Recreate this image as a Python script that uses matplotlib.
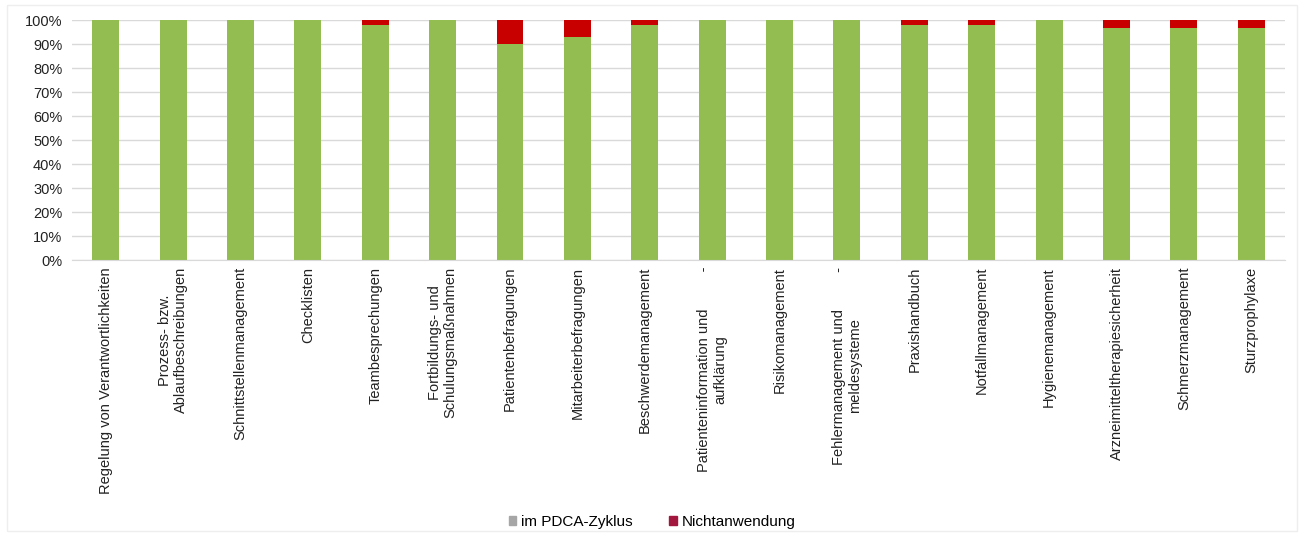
import matplotlib.pyplot as plt
from matplotlib.patches import Patch
from matplotlib.ticker import PercentFormatter

plt.rcParams['font.family'] = ['Liberation Sans', 'DejaVu Sans']

categories = [
    'Regelung von Verantwortlichkeiten',
    'Prozess- bzw.\nAblaufbeschreibungen',
    'Schnittstellenmanagement',
    'Checklisten',
    'Teambesprechungen',
    'Fortbildungs- und\nSchulungsmaßnahmen',
    'Patientenbefragungen',
    'Mitarbeiterbefragungen',
    'Beschwerdemanagement',
    'Patienteninformation und         -\naufklärung',
    'Risikomanagement',
    'Fehlermanagement und         -\nmeldesysteme',
    'Praxishandbuch',
    'Notfallmanagement',
    'Hygienemanagement',
    'Arzneimitteltherapiesicherheit',
    'Schmerzmanagement',
    'Sturzprophylaxe',
]
pdca = [100, 100, 100, 100, 98, 100, 90, 93, 98, 100, 100, 100, 98, 98, 100, 97, 97, 97]
nicht = [0, 0, 0, 0, 2, 0, 10, 7, 2, 0, 0, 0, 2, 2, 0, 3, 3, 3]

green = '#93BD51'
red = '#C80000'

fig = plt.figure(figsize=(13.04, 5.39), dpi=100)
ax = fig.add_axes([0.0552, 0.5176, 0.9302, 0.4444])

x = range(len(categories))
ax.bar(x, pdca, width=0.4, color=green, zorder=2)
ax.bar(x, nicht, width=0.4, bottom=pdca, color=red, zorder=2)

ax.set_xlim(-0.5, len(categories) - 0.5)
ax.set_ylim(0, 100)
ax.set_yticks(range(0, 101, 10))
ax.yaxis.set_major_formatter(PercentFormatter(decimals=0))
ax.grid(axis='y', color='#D9D9D9', linewidth=1, zorder=0)
for s in ['top', 'right', 'left']:
    ax.spines[s].set_visible(False)
ax.spines['bottom'].set_color('#D9D9D9')
ax.tick_params(length=0, labelsize=10.5, colors='#222222')
ax.tick_params(axis='y', pad=7)

ax.set_xticks(list(x))
ax.set_xticklabels(categories, rotation=90, ha='center', va='top',
                   multialignment='center', fontsize=10.5)
ax.tick_params(axis='x', pad=5)

handles = [Patch(color='#A6A6A6', label='im PDCA-Zyklus'),
           Patch(color='#A3163E', label='Nichtanwendung')]
fig.legend(handles=handles, loc='center', bbox_to_anchor=(0.5, 0.032), ncol=2,
           frameon=False, fontsize=11, handlelength=0.5, handleheight=0.5,
           handletextpad=0.3, columnspacing=2.4)

# faint outer chart border
fig.patches.append(plt.Rectangle((0.005, 0.015), 0.99, 0.975, transform=fig.transFigure,
                                 fill=False, edgecolor='#EEEEEE', linewidth=1))

fig.savefig('out.png', dpi=100)
